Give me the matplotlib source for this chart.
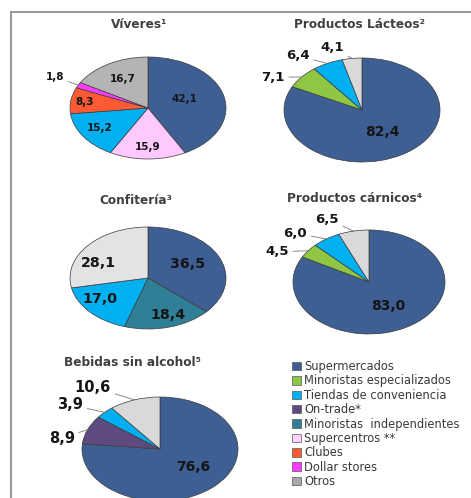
import matplotlib.pyplot as plt
import numpy as np
from matplotlib.patches import Patch, Rectangle

# canales y colores
canales = ["Supermercados", "Minoristas especializados", "Tiendas de conveniencia",
           "On-trade*", "Minoristas  independientes", "Supercentros **", "Clubes",
           "Dollar stores", "Otros"]
col_canal = ["#3d5f93", "#8fc744", "#00b0f0", "#5e4a7e", "#2f7f96",
             "#ffd0ff", "#ff5a33", "#ff3cff", "#a9a9a9"]

# Víveres
viv_val = [42.1, 15.9, 15.2, 8.3, 1.8, 16.7]
viv_col = ["#3d5f93", "#ffc8ff", "#00b0f0", "#ff5a33", "#ff3cff", "#b4b4b4"]
# Productos lácteos
lac_val = [82.4, 7.1, 6.4, 4.1]
lac_col = ["#3d5f93", "#8fc744", "#00b0f0", "#d9d9d9"]
# Confitería
con_val = [36.5, 18.4, 17.0, 28.1]
con_col = ["#3d5f93", "#2f7f96", "#00b0f0", "#e3e3e3"]
# Productos cárnicos
car_val = [83.0, 4.5, 6.0, 6.5]
car_col = ["#3d5f93", "#8fc744", "#00b0f0", "#d9d9d9"]
# Bebidas sin alcohol
beb_val = [76.6, 8.9, 3.9, 10.6]
beb_col = ["#3d5f93", "#5e4a7e", "#00b0f0", "#d9d9d9"]

W, H = 471, 498
fig = plt.figure(figsize=(W / 100, H / 100), dpi=100)
fig.patch.set_facecolor("white")

# marco gris
fig.add_artist(Rectangle((11 / W, -0.2), 1.3, 1 - 12 / H + 0.2, transform=fig.transFigure,
                         fill=False, edgecolor="#9a9a9a", lw=1.5))


def fmt(v):
    return f"{v:.1f}".replace(".", ",")


def tarta(cx, cy, rx, ry, vals, cols, pos, lead, fs, titulo, tpos):
    ax = fig.add_axes([(cx - rx) / W, 1 - (cy + ry) / H, 2 * rx / W, 2 * ry / H])
    wedges, _ = ax.pie(vals, colors=cols, startangle=90, counterclock=False,
                       wedgeprops=dict(edgecolor="#3a3a3a", linewidth=0.5))
    for w in wedges:
        w.set_clip_on(False)
    ax.set_aspect("auto")
    ax.set_xlim(-1, 1)
    ax.set_ylim(-1, 1)
    ax.axis("off")
    tot = float(np.sum(vals))
    acum = 0.0
    for v, (px, py), ld, f in zip(vals, pos, lead, fs):
        mid = np.radians(90 - 360 * (acum + v / 2) / tot)
        acum += v
        if ld:
            ax.annotate(fmt(v), xy=(np.cos(mid), np.sin(mid)), xytext=(px, py),
                        ha="center", va="center", fontsize=f, fontweight="bold",
                        color="#151515", annotation_clip=False,
                        arrowprops=dict(arrowstyle="-", color="#777777", lw=0.6,
                                        shrinkA=1, shrinkB=0))
        else:
            ax.text(px, py, fmt(v), ha="center", va="center", fontsize=f,
                    fontweight="bold", color="#151515")
    fig.text(tpos[0] / W, 1 - tpos[1] / H, titulo, ha="center", va="center",
             fontsize=8.7, fontweight="bold", color="#404040")


tarta(148, 108, 78, 51, viv_val, viv_col,
      [(0.47, 0.18), (0, -0.76), (-0.62, -0.39), (-0.81, 0.12), (-1.19, 0.61), (-0.33, 0.57)],
      [0, 0, 0, 0, 1, 0], [7.5] * 6, "Víveres¹", (139, 24))
tarta(362, 110, 78, 52, lac_val, lac_col,
      [(0.26, -0.42), (-1.14, 0.63), (-0.82, 1.04), (-0.38, 1.21)],
      [0, 1, 1, 1], [10, 9.5, 9.5, 9.5], "Productos Lácteos²", (359, 24))
tarta(148, 278, 78, 51, con_val, con_col,
      [(0.51, 0.27), (0.26, -0.73), (-0.62, -0.41), (-0.64, 0.29)],
      [0, 0, 0, 0], [10.2] * 4, "Confitería³", (136, 200))
tarta(369, 282, 76, 52, car_val, car_col,
      [(0.25, -0.46), (-1.21, 0.58), (-0.97, 0.94), (-0.55, 1.21)],
      [0, 1, 1, 1], [10, 9.5, 9.5, 9.5], "Productos cárnicos⁴", (355, 199))
tarta(160, 449, 78, 52, beb_val, beb_col,
      [(0.42, -0.35), (-1.26, 0.21), (-1.15, 0.85), (-0.86, 1.19)],
      [0, 1, 1, 1], [10, 10.5, 10.5, 10.5], "Bebidas sin alcohol⁵", (132, 362))

handles = [Patch(facecolor=c, edgecolor="#555555", lw=0.5) for c in col_canal]
fig.legend(handles, canales, loc="upper left", bbox_to_anchor=(292 / W, 1 - 360 / H),
           frameon=False, fontsize=8.3, handlelength=0.75, handleheight=0.75,
           handletextpad=0.3, labelspacing=0.12, borderpad=0, borderaxespad=0,
           labelcolor="#3a3a3a")

fig.savefig("out.png", dpi=100)
